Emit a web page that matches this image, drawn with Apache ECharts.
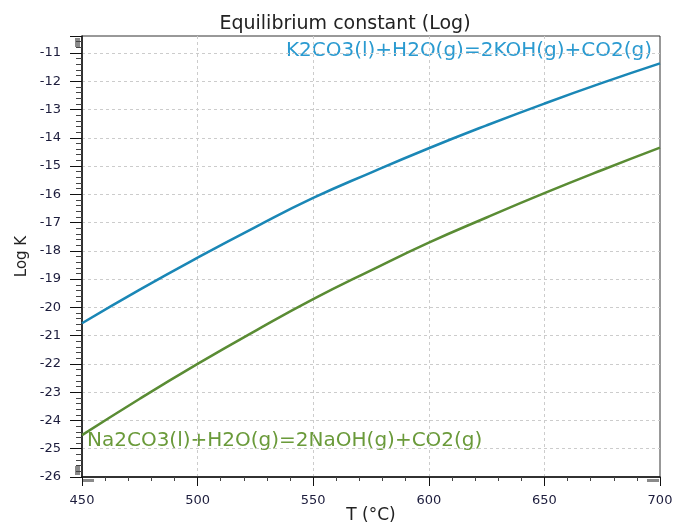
<!DOCTYPE html>
<html>
<head>
<meta charset="utf-8">
<script src="https://cdn.jsdelivr.net/npm/echarts@6/dist/echarts.min.js"></script>
<style>html,body{margin:0;padding:0;background:#fff}#c{width:673px;height:524px}</style>
</head>
<body>
<div id="c"></div>
<script>
const temps = [450, 475, 500, 525, 550, 575, 600, 625, 650, 675, 700];
const k2co3 = [-20.56, -19.37, -18.24, -17.16, -16.13, -15.23, -14.37, -13.56, -12.79, -12.06, -11.37];
const na2co3 = [-24.52, -23.23, -22.00, -20.83, -19.71, -18.69, -17.71, -16.82, -15.96, -15.14, -14.35];
const titleText = 'Equilibrium constant (Log)';
const k2Label = 'K2CO3(l)+H2O(g)=2KOH(g)+CO2(g)';
const naLabel = 'Na2CO3(l)+H2O(g)=2NaOH(g)+CO2(g)';
const xName = 'T (°C)';
const yName = 'Log K';

const font = 'DejaVu Sans';
const chart = echarts.init(document.getElementById('c'));
chart.setOption({
  animation: false,
  title: {
    text: titleText, left: 340, top: 10, textAlign: 'center',
    textStyle: { fontFamily: font, fontSize: 19, fontWeight: 'normal', color: '#222' }
  },
  grid: { left: 82, top: 36, right: 13, bottom: 47, show: true, borderColor: '#333', borderWidth: 1,
          containLabel: false, outerBoundsMode: 'none' },
  xAxis: {
    type: 'value', min: 450, max: 700, interval: 50,
    name: xName, nameLocation: 'middle', nameGap: 30, nameMoveOverlap: false,
    nameTextStyle: { fontFamily: font, fontSize: 17, color: '#222' },
    axisLine: { lineStyle: { color: '#111', width: 1.5 } },
    axisTick: { show: true, length: 9, lineStyle: { color: '#111' } },
    minorTick: { show: true, splitNumber: 5, length: 4, lineStyle: { color: '#444' } },
    axisLabel: { fontFamily: font, fontSize: 13, color: '#1c1c3c', margin: 17 },
    splitLine: { show: true, showMinLine: false, showMaxLine: false, lineStyle: { color: '#ccc', type: [3, 3] } }
  },
  yAxis: {
    type: 'value', min: -26, max: -10.4, interval: 1,
    name: yName, nameLocation: 'middle', nameGap: 52, nameMoveOverlap: false,
    nameTextStyle: { fontFamily: font, fontSize: 15, color: '#222' },
    axisLine: { onZero: false, lineStyle: { color: '#111', width: 1.5 } },
    axisTick: { show: true, length: 12, lineStyle: { color: '#111' } },
    minorTick: { show: true, splitNumber: 5, length: 6, lineStyle: { color: '#444' } },
    axisLabel: { fontFamily: font, fontSize: 13, color: '#1c1c3c', margin: 21, showMaxLabel: false },
    splitLine: { show: true, showMinLine: false, showMaxLine: false, lineStyle: { color: '#ccc', type: [3, 3] } }
  },
  series: [
    { type: 'line', name: k2Label, data: temps.map((t, i) => [t, k2co3[i]]), smooth: true, symbol: 'none',
      lineStyle: { color: '#1a87b6', width: 2.5 } },
    { type: 'line', name: naLabel, data: temps.map((t, i) => [t, na2co3[i]]), smooth: true, symbol: 'none',
      lineStyle: { color: '#5a8c34', width: 2.5 } }
  ],
  graphic: [
    { type: 'text', right: 21, top: 41, style: { text: k2Label, fontFamily: font, fontSize: 20, fill: '#2a9ad0' } },
    { type: 'text', left: 87, top: 431, style: { text: naLabel, fontFamily: font, fontSize: 20, fill: '#6a9a3a' } },
    { type: 'rect', left: 75, top: 38, shape: { width: 5, height: 9 }, style: { fill: '#8a8a8a' } },
    { type: 'rect', left: 75, top: 466, shape: { width: 5, height: 9 }, style: { fill: '#8a8a8a' } },
    { type: 'rect', left: 83, top: 479, shape: { width: 11, height: 3 }, style: { fill: '#8a8a8a' } },
    { type: 'rect', left: 647, top: 479, shape: { width: 12, height: 3 }, style: { fill: '#8a8a8a' } }
  ]
});
</script>
</body>
</html>
